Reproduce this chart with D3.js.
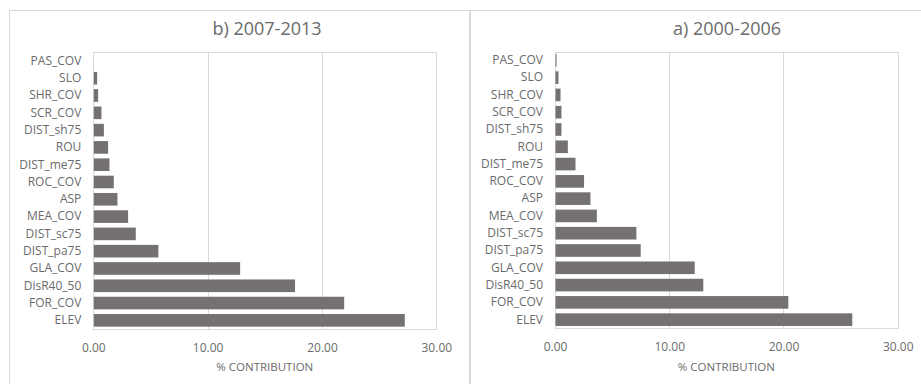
<!DOCTYPE html>
<html>
<head>
<meta charset="utf-8">
<script src="https://cdn.jsdelivr.net/npm/d3@7"></script>
<style>
  html, body { margin: 0; padding: 0; background: #ffffff; }
  svg { display: block; }
  text { font-family: "Open Sans", "Noto Sans", sans-serif; fill: #6b6b6b; }
</style>
</head>
<body>
<svg id="chart" width="921" height="384"></svg>
<script>
// ---- data ----
const categories = ["PAS_COV","SLO","SHR_COV","SCR_COV","DIST_sh75","ROU","DIST_me75","ROC_COV","ASP","MEA_COV","DIST_sc75","DIST_pa75","GLA_COV","DisR40_50","FOR_COV","ELEV"];
const values2007 = [0.00, 0.29, 0.38, 0.67, 0.88, 1.25, 1.37, 1.75, 2.07, 3.00, 3.67, 5.65, 12.80, 17.60, 21.90, 27.20];
const values2000 = [0.09, 0.26, 0.44, 0.52, 0.52, 1.08, 1.75, 2.50, 3.06, 3.62, 7.08, 7.46, 12.19, 12.94, 20.38, 25.98];
const xTicks = [0, 10, 20, 30];
const titles = ["b) 2007-2013", "a) 2000-2006"];
const axisTitle = "% CONTRIBUTION";

const svg = d3.select("#chart");
const textColor = "#6b6b6b";

function drawPanel(opt) {
  const g = svg.append("g");
  // panel border
  g.append("rect")
    .attr("x", opt.bx + 0.5).attr("y", 10.5)
    .attr("width", opt.bw).attr("height", 400)
    .attr("fill", "#fff").attr("stroke", "#d9d9d9").attr("stroke-width", 1);

  const x = d3.scaleLinear().domain([0, 30]).range([opt.x0, opt.x1]);
  const y = d3.scaleBand().domain(categories).range([opt.y0, opt.y1]).paddingInner(0.27).paddingOuter(0.135);

  // gridlines
  g.append("g").selectAll("line").data(xTicks.slice(1, -1)).join("line")
    .attr("x1", d => Math.round(x(d)) + 0.5).attr("x2", d => Math.round(x(d)) + 0.5)
    .attr("y1", opt.y0).attr("y2", opt.y1)
    .attr("stroke", "#d9d9d9");

  // plot area border
  g.append("rect")
    .attr("x", Math.round(opt.x0) + 0.5).attr("y", Math.round(opt.y0) + 0.5)
    .attr("width", Math.round(opt.x1) - Math.round(opt.x0)).attr("height", Math.round(opt.y1) - Math.round(opt.y0))
    .attr("fill", "none").attr("stroke", "#d9d9d9");

  // bars
  g.append("g").selectAll("rect").data(categories.map((c, i) => ({c, v: opt.values[i]}))).join("rect")
    .attr("x", x(0) + 0.5)
    .attr("y", d => y(d.c))
    .attr("width", d => Math.max(0, x(d.v) - x(0)))
    .attr("height", y.bandwidth())
    .attr("fill", "#767171");

  // x axis tick labels
  const xAxis = d3.axisBottom(x).tickValues(xTicks).tickFormat(d3.format(".2f")).tickSize(0).tickPadding(0);
  const ax = g.append("g").attr("transform", `translate(0,${opt.y1 + 14})`).call(xAxis);
  ax.select(".domain").remove();
  ax.selectAll("text").attr("font-size", 12).attr("fill", textColor).style("font-family", null);

  // y axis labels
  const yAxis = d3.axisLeft(y).tickSize(0).tickPadding(0);
  const ay = g.append("g").attr("transform", `translate(${opt.x0 - 12},0)`).call(yAxis);
  ay.select(".domain").remove();
  ay.selectAll("text").attr("font-size", 12).attr("fill", textColor).style("font-family", null);

  // title
  g.append("text").attr("x", opt.tx).attr("y", 35).attr("text-anchor", "middle")
    .attr("font-size", 18).attr("fill", textColor).text(opt.title);

  // axis title
  g.append("text").attr("x", (opt.x0 + opt.x1) / 2).attr("y", 371).attr("text-anchor", "middle")
    .attr("font-size", 11.5).attr("fill", textColor).text(axisTitle);
}

drawPanel({bx: 9, bw: 460, x0: 93.3, x1: 436.3, y0: 52.3, y1: 329, values: values2007, title: titles[0], tx: 267});
drawPanel({bx: 470, bw: 460, x0: 555, x1: 897.7, y0: 51.7, y1: 328.3, values: values2000, title: titles[1], tx: 727});
</script>
</body>
</html>
